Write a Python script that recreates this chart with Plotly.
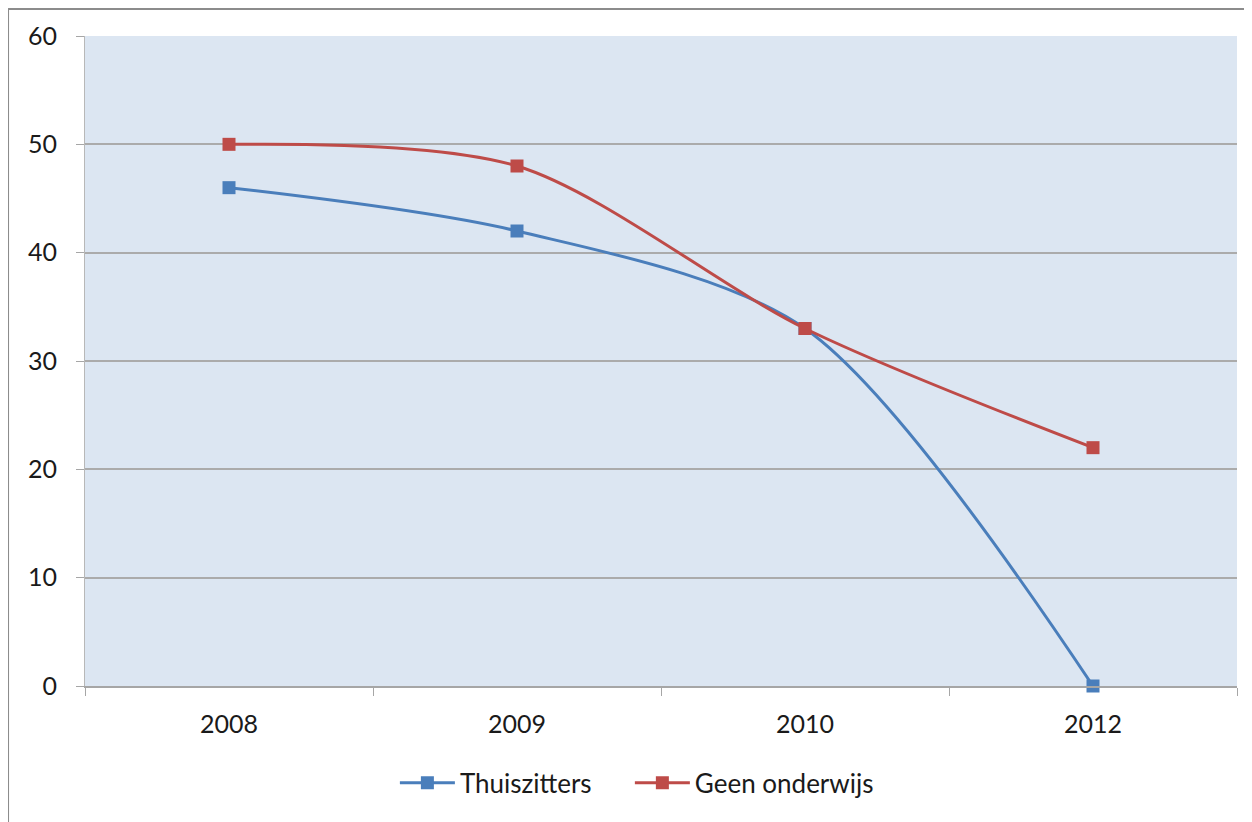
import plotly.graph_objects as go

categories = ["2008", "2009", "2010", "2012"]
thuiszitters = [46, 42, 33, 0]
geen_onderwijs = [50, 48, 33, 22]
y_ticks = [0, 10, 20, 30, 40, 50, 60]
series_names = ["Thuiszitters", "Geen onderwijs"]

blue = "#4A7EBB"
red = "#BE4B48"

fig = go.Figure()
fig.add_trace(go.Scatter(
    x=categories, y=thuiszitters, name=series_names[0] + "\u00a0" * 5,
    mode="lines+markers", line=dict(color=blue, width=3, shape="spline", smoothing=0.85),
    marker=dict(symbol="square", size=13, color=blue), cliponaxis=False))
fig.add_trace(go.Scatter(
    x=categories, y=geen_onderwijs, name=series_names[1],
    mode="lines+markers", line=dict(color=red, width=3, shape="spline", smoothing=0.85),
    marker=dict(symbol="square", size=13, color=red), cliponaxis=False))

fig.update_layout(
    width=1244, height=814,
    margin=dict(l=77, r=15, t=28, b=136),
    paper_bgcolor="white", plot_bgcolor="#DCE6F2",
    font=dict(family="Lato, Open Sans, sans-serif", size=25, color="#1a1a1a"),
    showlegend=True,
    legend=dict(orientation="h", x=0.269, xanchor="left", y=-0.149, yanchor="middle",
                font=dict(size=26), itemwidth=55, tracegroupgap=0),
    xaxis=dict(type="category", range=[-0.5, 3.5], showgrid=False,
               showline=True, linecolor="#A6A6A6", linewidth=2,
               ticks="outside", tickson="boundaries", ticklen=8, tickcolor="#A6A6A6",
               tickwidth=1, ticklabelstandoff=15),
    yaxis=dict(range=[0, 60], tickvals=y_ticks, showgrid=True, gridcolor="#ABABAB", gridwidth=2,
               zeroline=False, showline=True, linecolor="#B8B8B8", linewidth=1,
               ticks="outside", ticklen=8, tickcolor="#A6A6A6", ticklabelstandoff=14),
    shapes=[
        dict(type="line", xref="paper", yref="paper", x0=-0.0668, x1=1.2, y0=1.0415, y1=1.0415,
             line=dict(color="#8C8C8C", width=2)),
        dict(type="line", xref="paper", yref="paper", x0=-0.0668, x1=-0.0668, y0=1.0415, y1=-0.3,
             line=dict(color="#8C8C8C", width=2)),
    ],
)

fig.write_html("out.html")
